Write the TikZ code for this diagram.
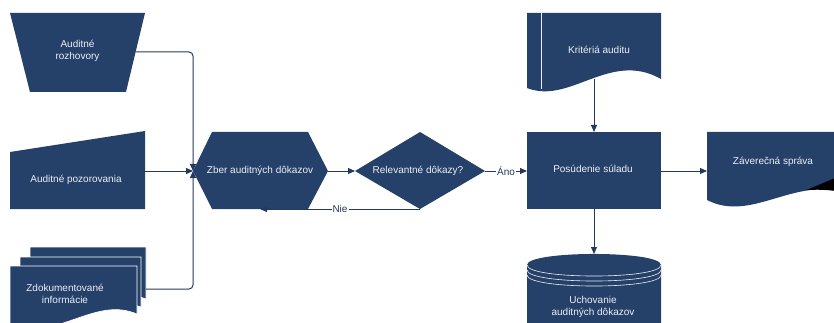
\documentclass[tikz,border=0pt]{standalone}
\usepackage{fontspec}
\setmainfont{Liberation Sans}
\usetikzlibrary{arrows.meta}
\definecolor{navy}{RGB}{37,65,105}
\definecolor{linec}{RGB}{35,58,92}
\definecolor{txt}{RGB}{236,239,244}
\begin{document}
\begin{tikzpicture}[x=1pt,y=-1pt,
  shapefill/.style={fill=navy},
  lbl/.style={text=txt,font=\fontsize{10}{12.5}\selectfont,align=center,inner sep=0pt},
  conn/.style={draw=linec,line width=1pt,-{Triangle[length=7pt,width=6pt]}},
  edgelbl/.style={fill=white,text=linec,font=\fontsize{10}{12}\selectfont,inner sep=1pt},
  innerline/.style={draw=txt,line width=0.6pt}]
\useasboundingbox (0,0) rectangle (834,323);
\begin{scope}
\clip (0,0) rectangle (834,323);
% Auditne rozhovory (trapezoid)
\fill[shapefill] (10,13) -- (145,13) -- (126,92) -- (30,92) -- cycle;
\coordinate (trapR) at (135.6,52);
\node[lbl] (rozh) at (77.5,51) {Auditné\\rozhovory};
% Auditne pozorovania (manual input)
\fill[shapefill] (10,152) -- (145,131) -- (145,209) -- (10,209) -- cycle;
\coordinate (manR) at (145,171);
\node[lbl] (pozo) at (76,179.5) {Auditné pozorovania};
% Zdokumentovane informacie (multi document)
\filldraw[shapefill,draw=white,line width=0.6pt] (30,247) -- (146,247) -- (146,299) .. controls (110,285) and (70,320) .. (30,305) -- cycle;
\filldraw[shapefill,draw=white,line width=0.6pt] (20,257) -- (141,257) -- (141,307) .. controls (100,292) and (65,330) .. (20,316) -- cycle;
\filldraw[shapefill,draw=white,line width=0.6pt] (10,266) -- (137,266) -- (137,314) .. controls (95,296) and (60,340) .. (10,326) -- cycle;
\coordinate (mdocR) at (146,289);
\node[lbl] (zdok) at (65,294) {Zdokumentované\\informácie};
% Zber auditnych dokazov (hexagon)
\fill[shapefill] (193,171) -- (212,132) -- (308,132) -- (328,171) -- (308,209) -- (212,209) -- cycle;
\coordinate (hexL) at (193,171);
\coordinate (hexR) at (328,171);
\coordinate (hexB) at (260,209);
\node[lbl] (zber) at (260,171) {Zber auditných dôkazov};
% Relevantne dokazy? (diamond)
\fill[shapefill] (355,171) -- (420,132) -- (485,171) -- (420,209) -- cycle;
\coordinate (diaL) at (355,171);
\coordinate (diaR) at (485,171);
\coordinate (diaB) at (420,209);
\node[lbl] (rel) at (418,171) {Relevantné dôkazy?};
% Kriteria auditu (document with stored line)
\fill[shapefill] (527,13) -- (661,13) -- (661,79) .. controls (610,50) and (570,105) .. (527,88) -- cycle;
\draw[innerline] (541,13) -- (541,89.3);
\coordinate (kritB) at (594,79);
\node[lbl] (krit) at (599,50) {Kritériá auditu};
% Posudenie suladu (process)
\fill[shapefill] (527,132) rectangle (661,209);
\coordinate (posL) at (527,171);
\coordinate (posR) at (661,171);
\coordinate (posT) at (594,132);
\coordinate (posB) at (594,209);
\node[lbl] (pos) at (593,169) {Posúdenie súladu};
% Zaverecna sprava (document)
\fill[shapefill] (707,132) -- (850,132) -- (850,191) -- (841,191) .. controls (790,180) and (750,222) .. (707,200) -- cycle;
\fill[black] (806,190.2) -- (834,178.5) -- (834,190.8) .. controls (824,189.5) and (814,189.5) .. (806,190.2) -- cycle;
\coordinate (zavL) at (707,171);
\node[lbl] (zav) at (773,162) {Záverečná správa};
% Uchovanie auditnych dokazov (cylinder)
\fill[shapefill] (527,265) .. controls (527,250.3) and (661,250.3) .. (661,265) -- (661,335) -- (527,335) -- cycle;
\draw[innerline] (527,265) .. controls (527,279.7) and (661,279.7) .. (661,265);
\draw[innerline] (527,270) .. controls (527,284.7) and (661,284.7) .. (661,270);
\draw[innerline] (527,275) .. controls (527,289.7) and (661,289.7) .. (661,275);
\coordinate (cylT) at (594,254);
\node[lbl] (uch) at (593,307) {Uchovanie\\auditných dôkazov};
% Connectors
\draw[conn,rounded corners=4pt] (trapR) -| (hexL);
\draw[conn] (manR) -- (hexL);
\draw[conn,rounded corners=4pt] (mdocR) -| (hexL);
\draw[conn] (hexR) -- (diaL);
\draw[conn] (diaR) -- node[edgelbl] (ano) {Áno} (posL);
\draw[conn] (diaB) -- node[edgelbl,pos=0.5] (nie) {Nie} (hexB);
\draw[conn] (kritB) -- (posT);
\draw[conn] (posR) -- (zavL);
\draw[conn] (posB) -- (cylT);
\end{scope}
\end{tikzpicture}
\end{document}
